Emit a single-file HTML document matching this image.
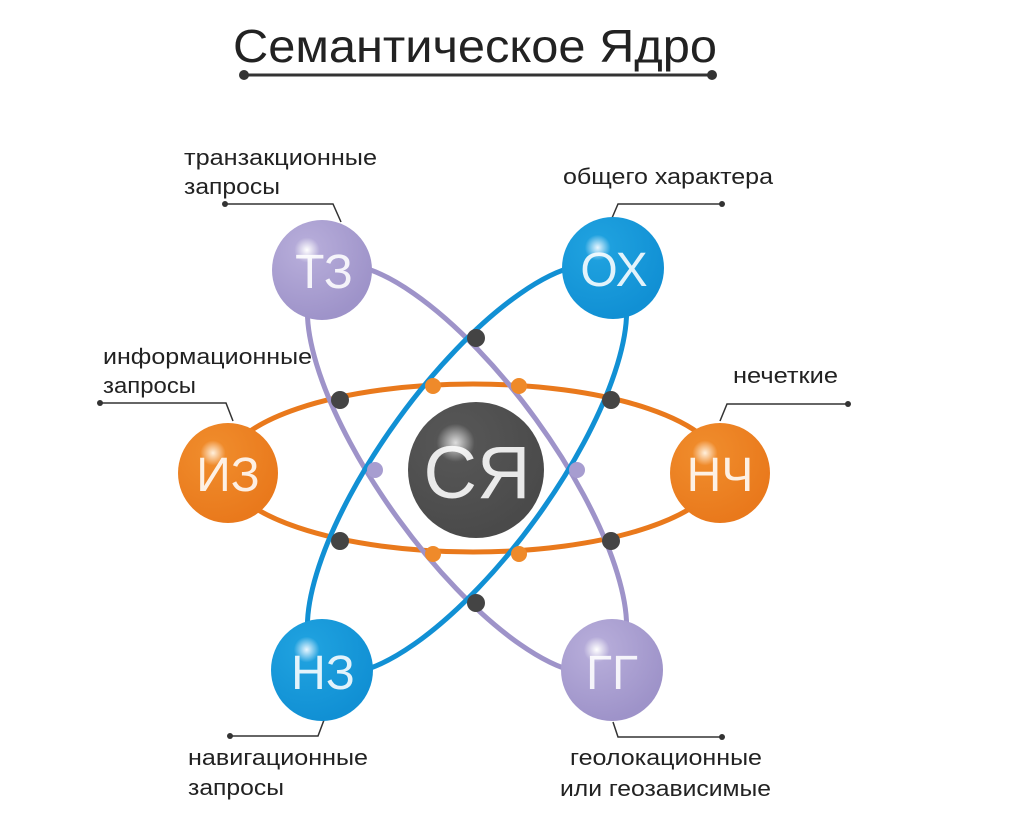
<!DOCTYPE html>
<html><head><meta charset="utf-8"><style>
html,body{margin:0;padding:0;background:#fff;}
svg{display:block;}
text{font-family:"Liberation Sans","DejaVu Sans",sans-serif;}
</style></head><body>
<svg width="1024" height="828" viewBox="0 0 1024 828" xmlns="http://www.w3.org/2000/svg">
<defs>
<radialGradient id="gP" cx="0.35" cy="0.3" r="0.7"><stop offset="0" stop-color="#fff"/><stop offset="0.18" stop-color="#b4aad8"/><stop offset="1" stop-color="#9e93c9"/></radialGradient>
<radialGradient id="gB" cx="0.35" cy="0.3" r="0.7"><stop offset="0" stop-color="#e8f6ff"/><stop offset="0.18" stop-color="#1ea0de"/><stop offset="1" stop-color="#1190d4"/></radialGradient>
<radialGradient id="gO" cx="0.35" cy="0.3" r="0.7"><stop offset="0" stop-color="#fff0dc"/><stop offset="0.18" stop-color="#ef8a2a"/><stop offset="1" stop-color="#e9791c"/></radialGradient>
<radialGradient id="gD" cx="0.35" cy="0.3" r="0.7"><stop offset="0" stop-color="#ddd"/><stop offset="0.2" stop-color="#555"/><stop offset="1" stop-color="#4a4a4a"/></radialGradient>
</defs>
<text x="233" y="62" font-size="46" fill="#222" textLength="484" lengthAdjust="spacingAndGlyphs">Семантическое Ядро</text>
<line x1="244" y1="75" x2="712" y2="75" stroke="#333" stroke-width="3"/>
<circle cx="244" cy="75" r="5" fill="#333"/><circle cx="712" cy="75" r="5" fill="#333"/>

<g fill="none" stroke-width="5">
<ellipse cx="473" cy="468" rx="248" ry="84" stroke="#e9791c"/>
<ellipse cx="467" cy="469" rx="245" ry="85" stroke="#9e93c9" transform="rotate(54 467 469)"/>
<ellipse cx="467" cy="469" rx="245" ry="85" stroke="#1190d4" transform="rotate(-54 467 469)"/>
</g>
<g fill="#444">
<circle cx="340" cy="400" r="9"/><circle cx="611" cy="400" r="9"/>
<circle cx="340" cy="541" r="9"/><circle cx="611" cy="541" r="9"/>
<circle cx="476" cy="338" r="9"/><circle cx="476" cy="603" r="9"/>
</g>
<g fill="#ef8a2a">
<circle cx="433" cy="386" r="8"/><circle cx="519" cy="386" r="8"/>
<circle cx="433" cy="554" r="8"/><circle cx="519" cy="554" r="8"/>
</g>
<g fill="#a79dd0"><circle cx="375" cy="470" r="8"/><circle cx="577" cy="470" r="8"/></g>

<g stroke="#333" stroke-width="1.5" fill="none">
<polyline points="225,204 333,204 341,222"/>
<polyline points="722,204 618,204 612,218"/>
<polyline points="100,403 226,403 233,421"/>
<polyline points="848,404 727,404 720,421"/>
<polyline points="230,736 318,736 324,720"/>
<polyline points="722,737 618,737 613,722"/>
</g>
<g fill="#333">
<circle cx="225" cy="204" r="3"/><circle cx="722" cy="204" r="3"/><circle cx="100" cy="403" r="3"/>
<circle cx="848" cy="404" r="3"/><circle cx="230" cy="736" r="3"/><circle cx="722" cy="737" r="3"/>
</g>

<circle cx="322" cy="270" r="50" fill="url(#gP)"/>
<circle cx="613" cy="268" r="51" fill="url(#gB)"/>
<circle cx="228" cy="473" r="50" fill="url(#gO)"/>
<circle cx="720" cy="473" r="50" fill="url(#gO)"/>
<circle cx="322" cy="670" r="51" fill="url(#gB)"/>
<circle cx="612" cy="670" r="51" fill="url(#gP)"/>
<circle cx="476" cy="470" r="68" fill="url(#gD)"/>

<g fill="#fff" fill-opacity="0.88" font-size="48" text-anchor="middle">
<text x="324" y="288">ТЗ</text>
<text x="614" y="286">ОХ</text>
<text x="228" y="491">ИЗ</text>
<text x="720" y="491">НЧ</text>
<text x="323" y="689">НЗ</text>
<text x="612" y="689">ГГ</text>
<text x="477" y="498" font-size="74">СЯ</text>
</g>

<g font-size="22" fill="#222">
<text x="184" y="165" textLength="193" lengthAdjust="spacingAndGlyphs">транзакционные</text>
<text x="184" y="194" textLength="96" lengthAdjust="spacingAndGlyphs">запросы</text>
<text x="563" y="184" textLength="210" lengthAdjust="spacingAndGlyphs">общего характера</text>
<text x="103" y="364" textLength="209" lengthAdjust="spacingAndGlyphs">информационные</text>
<text x="103" y="393" textLength="93" lengthAdjust="spacingAndGlyphs">запросы</text>
<text x="733" y="383" textLength="105" lengthAdjust="spacingAndGlyphs">нечеткие</text>
<text x="188" y="765" textLength="180" lengthAdjust="spacingAndGlyphs">навигационные</text>
<text x="188" y="795" textLength="96" lengthAdjust="spacingAndGlyphs">запросы</text>
<text x="570" y="765" textLength="192" lengthAdjust="spacingAndGlyphs">геолокационные</text>
<text x="560" y="796" textLength="211" lengthAdjust="spacingAndGlyphs">или геозависимые</text>
</g>
</svg>
</body></html>
